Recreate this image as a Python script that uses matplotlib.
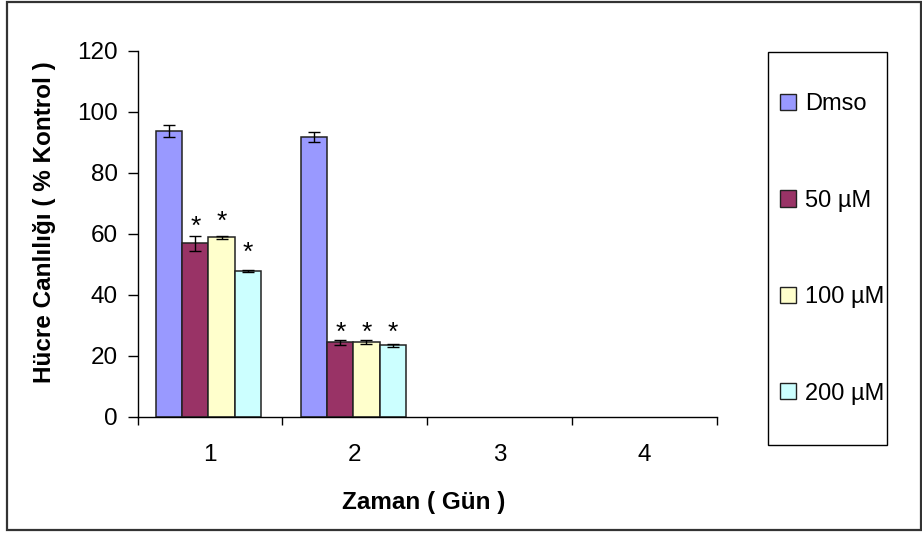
import matplotlib
matplotlib.use("Agg")
import matplotlib.pyplot as plt
from matplotlib.patches import Rectangle, Patch
import numpy as np

plt.rcParams['font.family'] = ['Liberation Sans', 'DejaVu Sans']

days = ["1", "2", "3", "4"]
series = ["Dmso", "50 µM", "100 µM", "200 µM"]
colors = ["#9999FF", "#993366", "#FFFFCC", "#CCFFFF"]
dmso = [93.8, 91.7, np.nan, np.nan]
c50 = [56.8, 24.4, np.nan, np.nan]
c100 = [58.9, 24.5, np.nan, np.nan]
c200 = [47.8, 23.4, np.nan, np.nan]
err_dmso = [2.0, 1.7, np.nan, np.nan]
err_50 = [2.6, 0.8, np.nan, np.nan]
err_100 = [0.5, 0.8, np.nan, np.nan]
err_200 = [0.4, 0.4, np.nan, np.nan]
# significance marker heights (asterisk label positions, % Kontrol)
star_dmso = [np.nan, np.nan, np.nan, np.nan]
star_50 = [62.3, 27.5, np.nan, np.nan]
star_100 = [63.9, 27.5, np.nan, np.nan]
star_200 = [53.7, 27.5, np.nan, np.nan]

values = [dmso, c50, c100, c200]
errors = [err_dmso, err_50, err_100, err_200]
stars = [star_dmso, star_50, star_100, star_200]

W, H = 922, 533
fig = plt.figure(figsize=(W / 100, H / 100), dpi=100)

# outer frame
fig.patches.append(Rectangle((7 / W, 3.5 / H), (921 - 7) / W, (531 - 3.5) / H,
                             transform=fig.transFigure, fill=False,
                             edgecolor="#333333", linewidth=1.6))

ax = fig.add_axes([137.5 / W, (H - 416.7) / H, (717 - 137.5) / W, (416.7 - 50.7) / H])

x = np.arange(1, len(days) + 1)
bw = 0.181
for i, (vals, errs, st, col) in enumerate(zip(values, errors, stars, colors)):
    pos = x + (i - 1.5) * bw - 0.01
    ax.bar(pos, vals, width=bw, color=col, edgecolor="#222222", linewidth=1.1, zorder=2)
    ax.errorbar(pos, vals, yerr=errs, fmt="none", ecolor="black", elinewidth=1.0,
                capsize=4.5, capthick=1.0, zorder=3)
    for p, s in zip(pos, st):
        if not np.isnan(s):
            ax.text(p, s, "*", ha="center", va="center", fontsize=19)

ax.set_xlim(0.5, 4.5)
ax.set_ylim(0, 120)
ax.set_yticks(np.arange(0, 121, 20))
ax.set_xticks(x)
ax.set_xticklabels(days)
ax.set_xticks(np.arange(0.5, 4.51, 1), minor=True)
ax.tick_params(axis="x", which="major", length=0, pad=20, labelsize=17.5)
ax.tick_params(axis="x", which="minor", length=6, width=1, direction="out")
ax.tick_params(axis="y", which="major", length=7, width=1, direction="out", pad=7, labelsize=17.5)
for s in ["top", "right"]:
    ax.spines[s].set_visible(False)
for s in ["left", "bottom"]:
    ax.spines[s].set_linewidth(1.0)
    ax.spines[s].set_color("black")

fig.text(45 / W, 1 - 222 / H, "Hücre Canlılığı ( % Kontrol )", rotation=90,
         ha="center", va="center", fontsize=17.5, fontweight="bold")
fig.text(424 / W, 1 - 502 / H, "Zaman ( Gün )", ha="center", va="center",
         fontsize=17.5, fontweight="bold")

# legend box
fig.patches.append(Rectangle((768 / W, 1 - 445 / H), (887 - 768) / W, (445 - 52) / H,
                             transform=fig.transFigure, fill=False,
                             edgecolor="black", linewidth=1.0))
handles = [Patch(facecolor=c, edgecolor="#222222", linewidth=1.0) for c in colors]
fig.legend(handles, series, loc="center left", bbox_to_anchor=(768 / W, 1 - 249 / H),
           frameon=False, fontsize=17, handlelength=0.68, handleheight=0.68,
           handletextpad=0.4, labelspacing=3.15, borderpad=0)

fig.savefig("out.png", dpi=100)
